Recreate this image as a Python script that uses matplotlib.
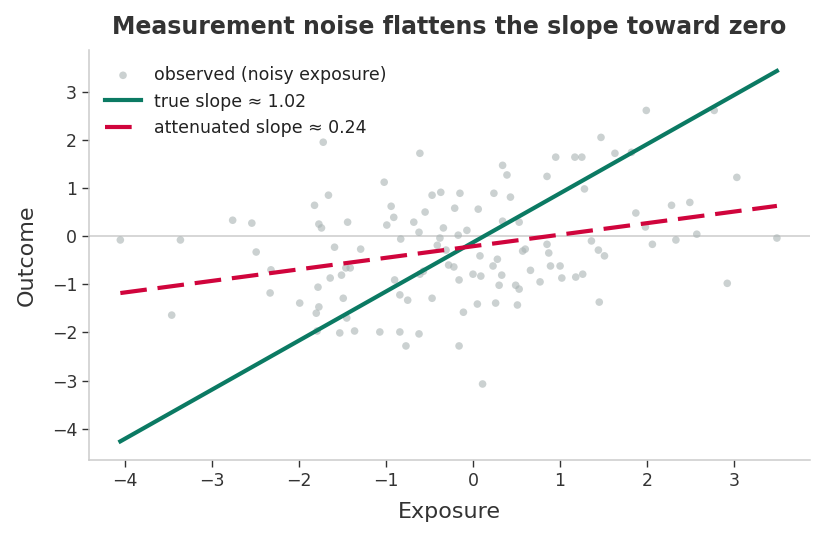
import numpy as np
import matplotlib
matplotlib.use("Agg")
import matplotlib.pyplot as plt

# observed (noisy exposure) points
x_obs = [-4.05, -3.46, -3.36, -2.76, -2.54, -2.49, -2.33, -2.32, -1.99, -1.82,
         -1.80, -1.79, -1.78, -1.77, -1.74, -1.72, -1.77, -1.66, -1.64, -1.59,
         -1.53, -1.49, -1.51, -1.46, -1.44, -1.45, -1.41, -1.36, -1.29, -1.07,
         -1.02, -0.99, -0.94, -0.91, -0.90, -0.84, -0.84, -0.83, -0.77, -0.75,
         -0.68, -0.62, -0.61, -0.61, -0.62, -0.55, -0.47, -0.47, -0.41, -0.37,
         -0.34, -0.38, -0.31, -0.28, -0.21, -0.22, -0.17, -0.15, -0.16, -0.16,
         -0.11, -0.07, 0.00, 0.05, 0.06, 0.09, 0.11, 0.08, 0.23, 0.24,
         0.26, 0.28, 0.30, 0.33, 0.34, 0.34, 0.39, 0.43, 0.49, 0.51,
         0.53, 0.53, 0.57, 0.60, 0.66, 0.77, 0.85, 0.85, 0.87, 0.89,
         0.95, 1.00, 1.02, 1.17, 1.18, 1.25, 1.26, 1.28, 1.36, 1.44,
         1.45, 1.47, 1.51, 1.63, 1.82, 1.87, 1.99, 1.98, 2.06, 2.28,
         2.33, 2.49, 2.57, 2.77, 2.92, 3.03, 3.49, -0.57]
y_obs = [-0.08, -1.64, -0.08, 0.33, 0.27, -0.33, -1.18, -0.70, -1.39, 0.64,
         -1.60, -1.97, -1.06, 0.25, 0.17, 1.95, -1.47, 0.85, -0.87, -0.23,
         -2.01, -1.29, -0.81, -0.66, 0.29, -1.70, -0.66, -1.97, -0.27, -1.99,
         1.12, 0.23, 0.62, 0.39, -0.91, -1.22, -1.99, -0.06, -2.28, -1.33,
         0.29, 0.08, -0.79, 1.72, -2.03, 0.50, -1.29, 0.85, -0.19, 0.91,
         0.17, -0.04, -0.29, -0.60, 0.58, -0.64, 0.02, 0.89, -0.91, -2.28,
         -1.58, 0.12, -0.79, -1.41, 0.56, -0.83, -3.07, -0.41, -0.62, 0.89,
         -1.39, -0.48, -1.02, -0.81, 0.31, 1.47, 1.27, 0.81, -1.02, -1.43,
         -1.10, 0.29, -0.31, -0.27, -0.71, -0.95, 1.24, -0.17, -0.35, -0.62,
         1.64, -0.62, -0.87, 1.64, -0.85, 1.64, -0.79, 0.98, -0.10, -0.29,
         -1.37, 2.05, -0.41, 1.72, 1.74, 0.48, 2.61, 0.19, -0.17, 0.64,
         -0.08, 0.70, 0.04, 2.61, -0.98, 1.22, -0.04, -0.73]

# fitted lines
true_slope = 1.02
true_intercept = -0.13
att_slope = 0.24
att_intercept = -0.21

fig, ax = plt.subplots(figsize=(8.24, 5.4), dpi=100)
fig.subplots_adjust(left=0.108, right=0.983, top=0.907, bottom=0.148)

ax.axhline(0, color="#cccccc", lw=1.1, zorder=0)
ax.scatter(x_obs, y_obs, s=30, color="#a9b3b3", alpha=0.6, edgecolors="none",
           label="observed (noisy exposure)", zorder=2)

xs = np.array([min(x_obs), max(x_obs)])
ax.plot(xs, true_intercept + true_slope * xs, color="#0b7a63", lw=3.0,
        label=f"true slope \u2248 {true_slope:.2f}", zorder=3)
ax.plot(xs, att_intercept + att_slope * xs, color="#d0043c", lw=3.0,
        dashes=(6.4, 2.6), label=f"attenuated slope \u2248 {att_slope:.2f}", zorder=3)

ax.set_xlim(-4.41, 3.87)
ax.set_ylim(-4.65, 3.86)
ax.set_xticks(range(-4, 4))
ax.set_yticks(range(-4, 4))

for s in ["top", "right"]:
    ax.spines[s].set_visible(False)
for s in ["left", "bottom"]:
    ax.spines[s].set_color("#cccccc")
    ax.spines[s].set_linewidth(1.1)
ax.tick_params(colors="#333333", labelsize=12.5, length=5, width=1.0)

ax.set_xlabel("Exposure", fontsize=16, color="#333333", labelpad=9)
ax.set_ylabel("Outcome", fontsize=16, color="#333333", labelpad=11)
ax.set_title("Measurement noise flattens the slope toward zero", fontsize=17,
             fontweight="bold", color="#333333", pad=12)

leg = ax.legend(loc="upper left", frameon=False, fontsize=12.5, handlelength=2.12,
                handletextpad=0.7, borderaxespad=0.5)
for t in leg.get_texts():
    t.set_color("#222222")

fig.savefig("out.png", dpi=100)
